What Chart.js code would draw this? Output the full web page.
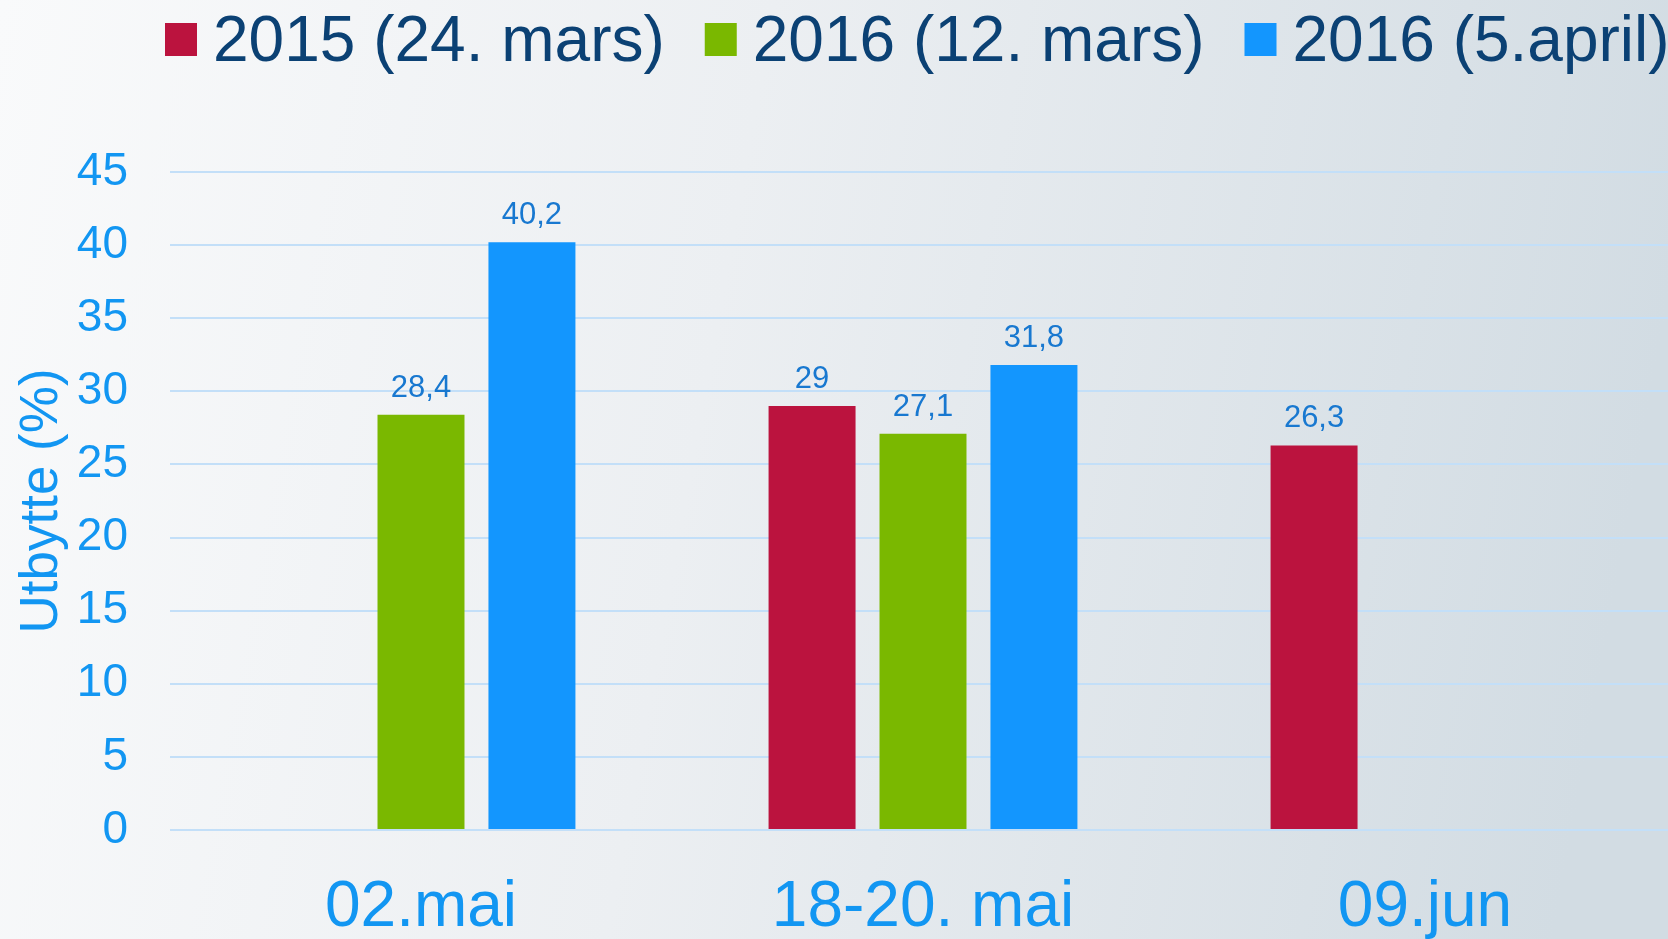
<!DOCTYPE html>
<html><head><meta charset="utf-8">
<script src="https://cdn.jsdelivr.net/npm/chart.js@4.4.0/dist/chart.umd.min.js"></script>
<style>html,body{margin:0;padding:0;overflow:hidden;background:#eef1f3}canvas{display:block}</style>
</head><body>
<canvas id="c" width="1668" height="939"></canvas>
<script>
const categories = ['02.mai', '18-20. mai', '09.jun'];
const seriesNames = ['2015 (24. mars)', '2016 (12. mars)', '2016 (5.april)'];
const values2015Mar24 = [null, 29, 26.3];
const values2016Mar12 = [28.4, 27.1, null];
const values2016Apr5 = [40.2, 31.8, null];
const yAxisTitle = 'Utbytte (%)';
const yMin = 0, yMax = 45, yStep = 5;

const seriesColors = ['#bb133e', '#7ab800', '#1396fe'];
const FONT = '"Liberation Sans", Arial, sans-serif';
const TICK_BLUE = '#1296f2';

const bgPlugin = {
  id: 'bg',
  beforeDraw(chart) {
    const {ctx, width, height} = chart;
    ctx.save();
    const g = ctx.createLinearGradient(0, 0, width, 300);
    g.addColorStop(0, '#f9fafb');
    g.addColorStop(0.45, '#eceff2');
    g.addColorStop(1, '#d2dce3');
    ctx.fillStyle = g;
    ctx.fillRect(0, 0, width, height);
    ctx.restore();
  }
};

// The plot area in the original runs a few pixels past the right edge of the picture.
const extendPlotPlugin = {
  id: 'extendPlot',
  afterLayout(chart) {
    const xs = chart.scales.x;
    xs.right += 8;
    xs.width += 8;
    xs.configure();
  }
};

const legendPlugin = {
  id: 'customLegend',
  afterDraw(chart) {
    const ctx = chart.ctx;
    ctx.save();
    ctx.font = '64px ' + FONT;
    ctx.textBaseline = 'alphabetic';
    ctx.textAlign = 'left';
    let x = 165;
    chart.data.datasets.forEach(ds => {
      ctx.fillStyle = ds.backgroundColor;
      ctx.fillRect(x, 23, 32, 33);
      x += 48;
      ctx.fillStyle = '#0b4174';
      ctx.fillText(ds.label, x, 61);
      x += ctx.measureText(ds.label).width + 40;
    });
    ctx.restore();
  }
};

const valueLabelPlugin = {
  id: 'valueLabels',
  afterDatasetsDraw(chart) {
    const ctx = chart.ctx;
    ctx.save();
    ctx.font = '31px ' + FONT;
    ctx.fillStyle = '#1878d0';
    ctx.textAlign = 'center';
    ctx.textBaseline = 'alphabetic';
    chart.data.datasets.forEach((ds, i) => {
      const meta = chart.getDatasetMeta(i);
      meta.data.forEach((el, j) => {
        const v = ds.data[j];
        if (v === null || v === undefined) return;
        ctx.fillText(String(v).replace('.', ','), el.x, el.y - 18);
      });
    });
    ctx.restore();
  }
};

const datasets = [values2015Mar24, values2016Mar12, values2016Apr5].map((d, i) => ({
  label: seriesNames[i],
  data: d,
  backgroundColor: seriesColors[i],
  borderWidth: 0,
  categoryPercentage: 0.663,
  barPercentage: 0.784
}));

new Chart(document.getElementById('c'), {
  type: 'bar',
  data: { labels: categories, datasets },
  plugins: [bgPlugin, extendPlotPlugin, legendPlugin, valueLabelPlugin],
  options: {
    responsive: false,
    devicePixelRatio: 1,
    animation: false,
    layout: { padding: { top: 172, right: 0, bottom: 0, left: 0 } },
    plugins: { legend: { display: false }, tooltip: { enabled: false } },
    scales: {
      x: {
        grid: { display: false, drawTicks: false },
        border: { display: false },
        ticks: { color: TICK_BLUE, font: { family: FONT, size: 64 }, padding: 40, maxRotation: 0, autoSkip: false },
        afterFit(s) { s.height = 109; }
      },
      y: {
        min: yMin, max: yMax,
        ticks: { stepSize: yStep, color: TICK_BLUE, font: { family: FONT, size: 46 }, padding: 42 },
        grid: { color: '#c3dff8', lineWidth: 2, drawTicks: false },
        border: { display: false },
        title: { display: true, text: yAxisTitle, color: TICK_BLUE, font: { family: FONT, size: 53 }, padding: { top: 11, bottom: 0 } },
        afterFit(s) { s.width = 170; }
      }
    }
  }
});
</script>
</body></html>
